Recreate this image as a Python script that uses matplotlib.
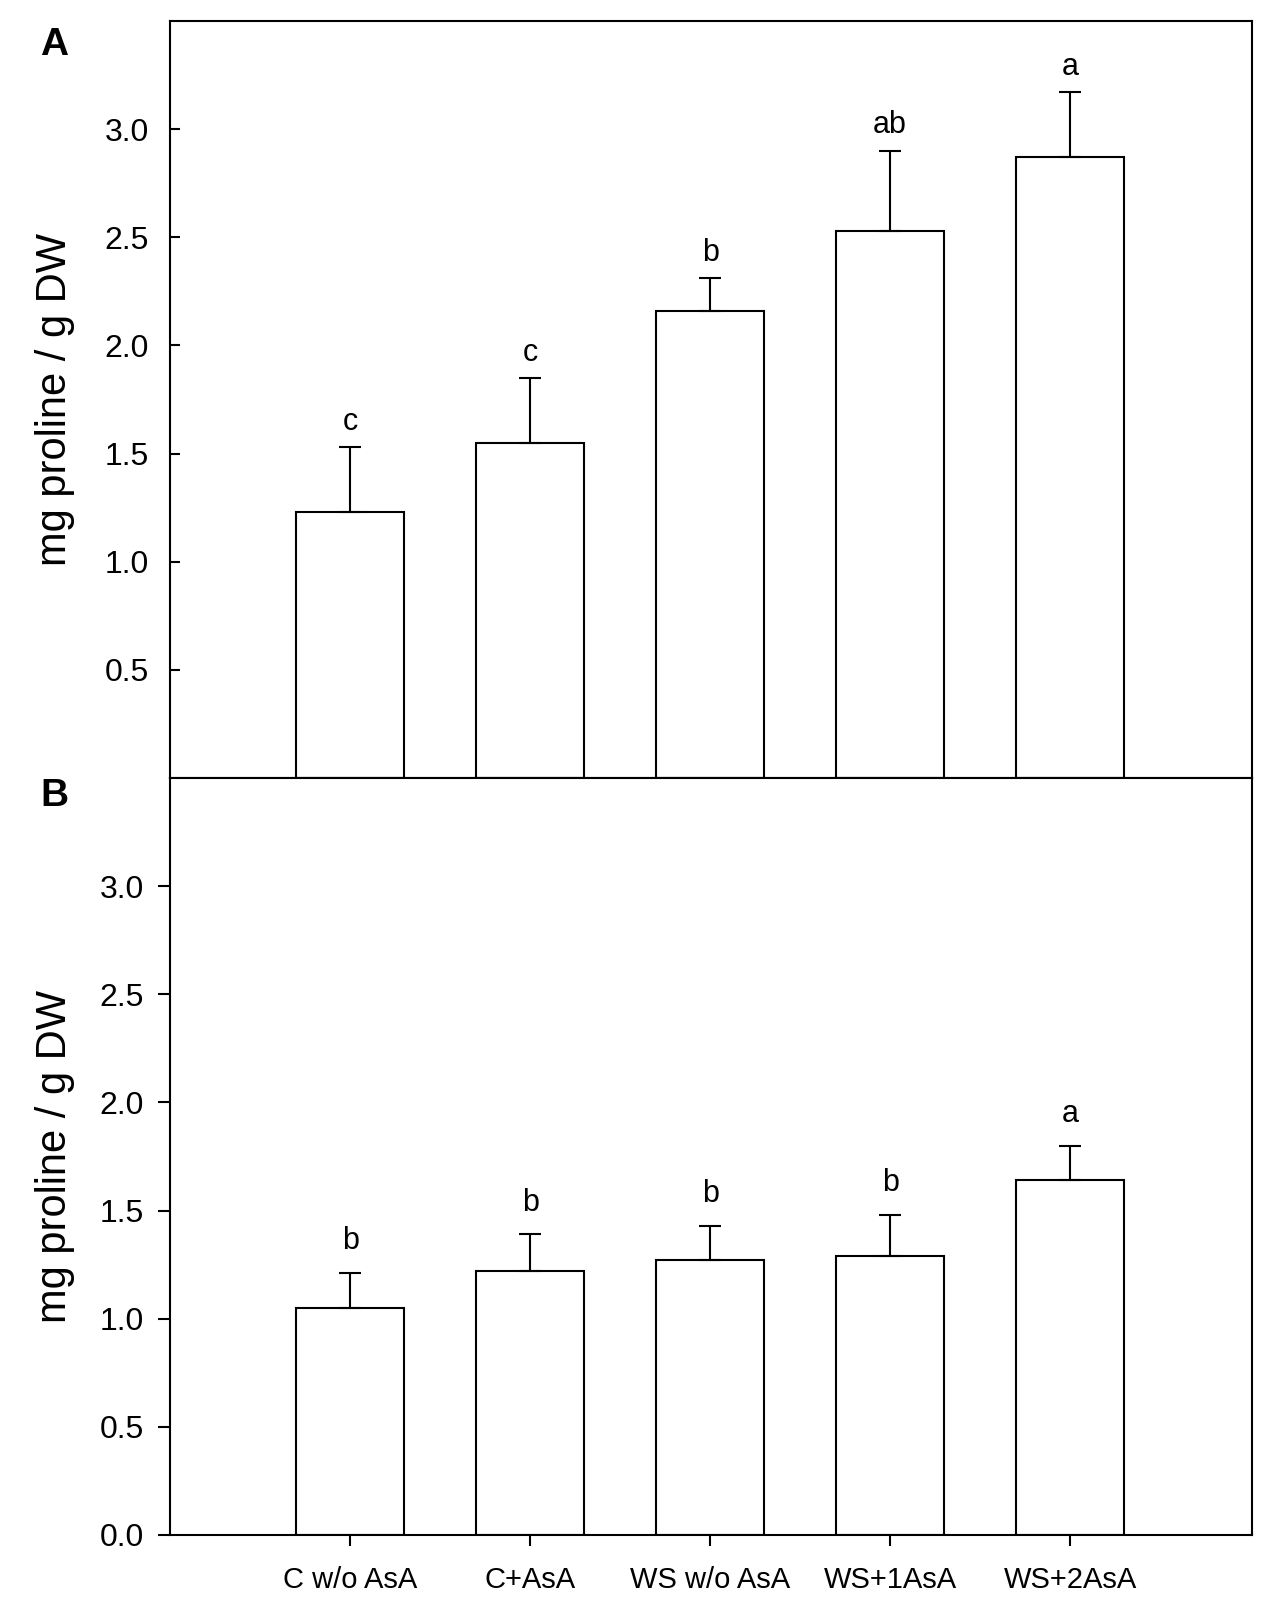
import numpy as np
import matplotlib
matplotlib.use("Agg")
import matplotlib.pyplot as plt

plt.rcParams['font.family'] = ['Liberation Sans', 'DejaVu Sans']

# treatments on the x axis
groups = ["C w/o AsA", "C+AsA", "WS w/o AsA", "WS+1AsA", "WS+2AsA"]

# panel A: proline content, mg / g DW
means_a = [1.23, 1.55, 2.16, 2.53, 2.87]
err_a = [0.30, 0.30, 0.15, 0.37, 0.30]
letters_a = ["c", "c", "b", "ab", "a"]

# panel B
means_b = [1.05, 1.22, 1.27, 1.29, 1.64]
err_b = [0.16, 0.17, 0.16, 0.19, 0.16]
letters_b = ["b", "b", "b", "b", "a"]

yticks_a = [0.5, 1.0, 1.5, 2.0, 2.5, 3.0]
yticks_b = [0.0, 0.5, 1.0, 1.5, 2.0, 2.5, 3.0]

fig = plt.figure(figsize=(12.67, 16.18), dpi=100)
ax_a = fig.add_axes([0.1342, 0.5192, 0.8540, 0.4678])
ax_b = fig.add_axes([0.1342, 0.0513, 0.8540, 0.4679])

x = np.arange(len(groups))
lw = 1.5


def draw_panel(ax, means, errs, letters, off):
    ax.bar(x, means, width=0.6, color="white", edgecolor="black", linewidth=lw, zorder=2)
    ax.errorbar(x, means, yerr=[np.zeros(len(errs)), errs], fmt="none", ecolor="black",
                elinewidth=lw, capsize=8, capthick=lw, zorder=3)
    for xi, m, e, t in zip(x, means, errs, letters):
        ax.text(xi, m + e + off, t, ha="center", va="baseline", fontsize=22)
    ax.set_xlim(-1, 5.01)
    ax.set_ylim(0, 3.5)
    for s in ax.spines.values():
        s.set_linewidth(lw)
    ax.set_ylabel("mg proline / g DW", fontsize=30)
    ax.yaxis.set_label_coords(-0.088, 0.5)


draw_panel(ax_a, means_a, err_a, letters_a, 0.08)
ax_a.set_yticks(yticks_a)
ax_a.set_yticklabels([f"{v:.1f}" for v in yticks_a])
ax_a.tick_params(axis="y", direction="in", length=7, width=lw, pad=15, labelsize=23)
ax_a.set_xticks([])

draw_panel(ax_b, means_b, err_b, letters_b, 0.11)
ax_b.set_yticks(yticks_b)
ax_b.set_yticklabels([f"{v:.1f}" for v in yticks_b])
ax_b.tick_params(axis="y", direction="out", length=9, width=lw, pad=10, labelsize=23)
ax_b.set_xticks(x)
ax_b.set_xticklabels(groups)
ax_b.tick_params(axis="x", direction="out", length=8, width=lw, pad=14, labelsize=21)

fig.text(0.043, 0.972, "A", fontsize=28, fontweight="bold", ha="center", va="center")
fig.text(0.043, 0.508, "B", fontsize=28, fontweight="bold", ha="center", va="center")

fig.savefig("out.png", dpi=100)
